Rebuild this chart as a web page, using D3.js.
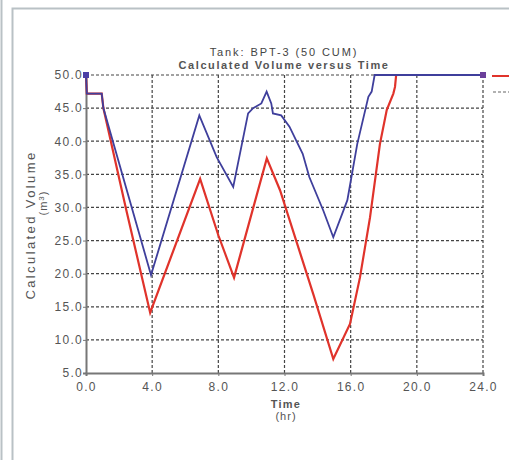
<!DOCTYPE html>
<html>
<head>
<meta charset="utf-8">
<script src="https://cdn.jsdelivr.net/npm/d3@7"></script>
<style>
  body { margin: 0; background: #fff; }
  text { font-family: "Liberation Sans", Arial, sans-serif; fill: #444; }
</style>
</head>
<body>
<script>
// tank volume, two runs (hours vs m3)
var blueTime = [0, 0.05, 0.95, 1.05, 3.93, 6.85, 7.9, 8.9, 9.8, 10.1, 10.6, 10.92, 11.2, 11.3, 11.8, 12.3, 13.1, 13.5, 14.35, 14.95, 15.8, 16.4, 17.07, 17.27, 17.45, 24]
var blueVol  = [50, 47.2, 47.2, 45, 19.8, 43.9, 37.6, 33.1, 44.2, 45, 45.7, 47.5, 45.7, 44.2, 43.9, 42.2, 38.1, 34.6, 29.5, 25.5, 31.1, 39.6, 46.7, 47.5, 50, 50]

var redTime = [0, 0.05, 0.95, 1.05, 2.4, 3.88, 6.9, 8.0, 8.95, 10.93, 11.73, 13.74, 14.95, 15.96, 16.56, 17.17, 17.77, 18.18, 18.58, 18.68, 18.75, 24]
var redVol  = [50, 47.2, 47.2, 45, 30, 14.1, 34.3, 25.8, 19.4, 37.4, 32.6, 16.9, 7.1, 12.4, 19.4, 28.5, 39.6, 44.7, 47.2, 48.2, 50, 50]

var xTicks = [0, 4, 8, 12, 16, 20, 24]
var yTicks = [5, 10, 15, 20, 25, 30, 35, 40, 45, 50]

var svg = d3.select("body")
  .append("svg")
  .attr("width", 509)
  .attr("height", 460)

// page frame
svg.append("line").attr("x1", 1.5).attr("x2", 1.5).attr("y1", 0).attr("y2", 460)
  .attr("stroke", "#b9c1c5").attr("stroke-width", 2)
svg.append("path").attr("d", "M12.5,460V8.5H509")
  .attr("fill", "none").attr("stroke", "#b9c1c5").attr("stroke-width", 2)

var x = d3.scaleLinear().domain([0, 24]).range([86, 483])
var y = d3.scaleLinear().domain([5, 50]).range([373, 75])

// grid
svg.selectAll(".gy")
  .data(yTicks.slice(1))
  .enter()
  .append("line")
  .attr("x1", 86).attr("x2", 483)
  .attr("y1", function (d) { return y(d) }).attr("y2", function (d) { return y(d) })
  .attr("stroke", "#444").attr("stroke-width", 1.2).attr("stroke-dasharray", "3,2")

svg.selectAll(".gx")
  .data(xTicks.slice(1))
  .enter()
  .append("line")
  .attr("y1", 75).attr("y2", 373)
  .attr("x1", function (d) { return x(d) }).attr("x2", function (d) { return x(d) })
  .attr("stroke", "#444").attr("stroke-width", 1.2).attr("stroke-dasharray", "3,2")

// axes
svg.append("g").attr("transform", "translate(86,0)")
  .call(d3.axisLeft(y).tickValues(yTicks).tickFormat(d3.format(".1f")).tickSize(3).tickPadding(0))
svg.append("g").attr("transform", "translate(0,373)")
  .call(d3.axisBottom(x).tickValues(xTicks).tickFormat(d3.format(".1f")).tickSize(3).tickPadding(6))
svg.selectAll(".domain").attr("stroke", "#777").attr("stroke-width", 2)
svg.selectAll(".tick line").attr("stroke", "#777")
svg.selectAll(".tick text").style("font-size", "12px").style("fill", "#555")
  .style("letter-spacing", "1.3px")
  .style("font-family", "Liberation Sans, Arial, sans-serif")

// lines
var line = d3.line()
  .x(function (d) { return x(d[0]) })
  .y(function (d) { return y(d[1]) })

svg.append("path")
  .datum(d3.zip(redTime, redVol))
  .attr("d", line)
  .attr("fill", "none").attr("stroke", "#e0332b").attr("stroke-width", 2.2)

svg.append("path")
  .datum(d3.zip(blueTime, blueVol))
  .attr("d", line)
  .attr("fill", "none").attr("stroke", "#3f3f9c").attr("stroke-width", 1.8)

// end markers
svg.append("rect").attr("x", x(0) - 3).attr("y", y(50) - 3).attr("width", 6).attr("height", 6).attr("fill", "#4a3fa6")
svg.append("rect").attr("x", x(24) - 3).attr("y", y(50) - 3).attr("width", 6).attr("height", 6).attr("fill", "#6b3f9a")

// titles
svg.append("text").attr("x", 284).attr("y", 56).attr("text-anchor", "middle")
  .style("font-size", "11px").style("letter-spacing", "1.9px").text("Tank: BPT-3 (50 CUM)")
svg.append("text").attr("x", 284).attr("y", 69).attr("text-anchor", "middle")
  .style("font-size", "11px").style("font-weight", "bold").style("letter-spacing", "1.6px")
  .style("fill", "#555").text("Calculated Volume versus Time")

svg.append("text").attr("x", 286).attr("y", 408).attr("text-anchor", "middle")
  .style("font-size", "11px").style("font-weight", "bold").style("letter-spacing", "1.2px")
  .style("fill", "#555").text("Time")
svg.append("text").attr("x", 286).attr("y", 420).attr("text-anchor", "middle")
  .style("font-size", "11px").style("letter-spacing", "1px").style("fill", "#555").text("(hr)")

svg.append("text").attr("transform", "translate(35,225) rotate(-90)").attr("text-anchor", "middle")
  .style("font-size", "13px").style("letter-spacing", "2.4px").style("fill", "#555").text("Calculated Volume")
svg.append("text").attr("transform", "translate(47,203) rotate(-90)").attr("text-anchor", "middle")
  .style("font-size", "11px").style("letter-spacing", "1px").style("fill", "#555")
  .html("(m<tspan dy='-3' font-size='8'>3</tspan><tspan dy='3'>)</tspan>")

// clipped legend at right edge
svg.append("line").attr("x1", 492).attr("x2", 509).attr("y1", 76).attr("y2", 76)
  .attr("stroke", "#e0332b").attr("stroke-width", 2)
svg.append("line").attr("x1", 493).attr("x2", 509).attr("y1", 92).attr("y2", 92)
  .attr("stroke", "#666").attr("stroke-width", 1.2).attr("stroke-dasharray", "3,2")
</script>
</body>
</html>
